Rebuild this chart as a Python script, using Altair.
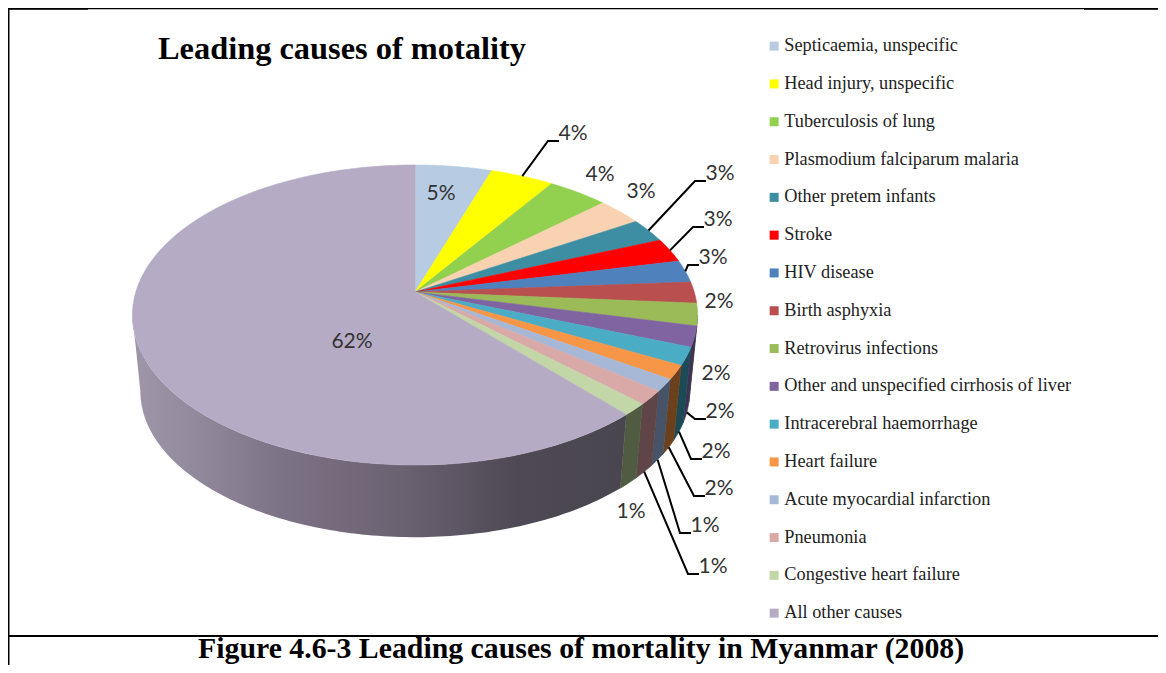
import math
import altair as alt

W, H = 1150, 657
ORIGIN = 8  # page margin: reference pixels minus this give chart pixels

causes = ["Septicaemia, unspecific", "Head injury, unspecific", "Tuberculosis of lung",
          "Plasmodium falciparum malaria", "Other pretem infants", "Stroke", "HIV disease",
          "Birth asphyxia", "Retrovirus infections", "Other and unspecified cirrhosis of liver",
          "Intracerebral haemorrhage", "Heart failure", "Acute myocardial infarction",
          "Pneumonia", "Congestive heart failure", "All other causes"]
shares = [5.1, 4.2, 4.0, 3.0, 2.6, 2.6, 2.4, 2.3, 2.4, 2.2, 1.9, 1.5, 1.3, 1.5, 1.3, 61.7]
labels = ["5%", "4%", "4%", "3%", "3%", "3%", "3%", "2%", "2%", "2%", "2%", "2%", "1%", "1%", "1%", "62%"]
top_colors = ["#b7cce3", "#ffff00", "#92d050", "#f9d2b2", "#3d8ea3", "#ff0000", "#4f81bd", "#b94f4e",
              "#9bbb59", "#8064a2", "#4bacc6", "#f79646", "#a7b8d7", "#d9a9a8", "#c3d6a7", "#b6abc5"]
side_colors = ["#5a6a7a", "#7a7a00", "#466a28", "#7a6855", "#1c4a57", "#7a0000", "#27405e", "#5c2726",
               "#4d5c2a", "#3e3352", "#1c4a57", "#6b401c", "#475366", "#5f4548", "#505c42", "#4a464f"]
label_xy = [(441, 194), (573, 134), (600, 175), (641, 192), (720, 174), (718, 220), (713, 258), (719, 302),
            (716, 374), (720, 412), (716, 452), (719, 489), (705, 526), (713, 567), (631, 512), (352, 342)]
# slices whose label is tied by a leader, and whether it starts at the lower rim
leaders = {1: False, 4: False, 5: False, 6: False, 9: True, 10: True, 11: True, 12: True, 13: True}

# Perspective pie: centre, radii, foreshortening, depth of the wall
CX, CY, RX, RY, PERSP = 415 - ORIGIN, 292 - ORIGIN, 279.2, 146.5, 0.1533
WALL_SCALE, WALL_DROP = 0.972, 77
VISIBLE = (98.8, 261.2)


def rim(angle, lower=False):
    a = math.radians(angle)
    w = 1 + PERSP * math.cos(a)
    x, y = RX * math.sin(a) / w, RY * math.cos(a) / w
    if lower:
        return [CX + x * WALL_SCALE, CY - y * WALL_SCALE + WALL_DROP]
    return [CX + x, CY - y]


def arc(a0, a1, lower=False):
    n = max(2, int(abs(a1 - a0)) + 2)
    return [rim(a0 + (a1 - a0) * i / (n - 1), lower) for i in range(n)]


def feature(kind, coords, **props):
    return {"type": "Feature", "properties": props, "geometry": {"type": kind, "coordinates": coords}}


edges = [0.0]
for s in shares:
    edges.append(edges[-1] + s * 3.6 * 100 / sum(shares))

top_features, side_features, gradient_features, leader_features = [], [], [], []
for i, cause in enumerate(causes):
    a0, a1 = edges[i], edges[i + 1]
    top_features.append(feature("Polygon", [[[CX, CY]] + arc(a0, a1) + [[CX, CY]]], cause=cause))
    b0, b1 = max(a0, VISIBLE[0]), min(a1, VISIBLE[1])
    if b1 > b0:
        ring = arc(b0, b1) + arc(b1, b0, lower=True)
        ring.append(ring[0])
        f = feature("Polygon", [ring], shade=side_colors[i])
        (gradient_features if cause == "All other causes" else side_features).append(f)
    if i in leaders:
        lx, ly = label_xy[i][0] - ORIGIN, label_xy[i][1] - ORIGIN
        start = rim((a0 + a1) / 2, leaders[i])
        leader_features.append(feature("LineString", [start, [lx - 25, ly + 7], [lx - 14, ly + 7]]))

label_rows = [{"text": t, "lon": x - ORIGIN, "lat": y - ORIGIN} for t, (x, y) in zip(labels, label_xy)]

proj = alt.Projection(type="identity", scale=1, translate=[0, 0])

walls = alt.Chart(alt.Data(values=side_features)).mark_geoshape(strokeWidth=0.6).encode(
    fill=alt.Fill("properties.shade:N", scale=None),
    stroke=alt.Stroke("properties.shade:N", scale=None),
).project(**proj.to_dict())

big_wall = alt.Chart(alt.Data(values=gradient_features)).mark_geoshape(
    fill=alt.Gradient(
        gradient="linear", x1=0, x2=1, y1=0, y2=0,
        stops=[alt.GradientStop(color="#9f96aa", offset=0),
               alt.GradientStop(color="#938a9e", offset=0.12),
               alt.GradientStop(color="#7d7386", offset=0.3),
               alt.GradientStop(color="#6a6171", offset=0.55),
               alt.GradientStop(color="#4e4954", offset=0.78),
               alt.GradientStop(color="#4a464f", offset=1)],
    ),
    strokeWidth=0,
).project(**proj.to_dict())

slices = alt.Chart(alt.Data(values=top_features)).mark_geoshape(strokeWidth=0.6).encode(
    fill=alt.Fill(
        "properties.cause:N",
        scale=alt.Scale(domain=causes, range=top_colors),
        sort=causes,
        legend=alt.Legend(
            title=None, orient="none", legendX=757, legendY=29, symbolType="square", symbolSize=81,
            symbolStrokeWidth=0, labelFont="Liberation Serif", labelFontSize=18.3, labelColor="#222222",
            labelLimit=400, rowPadding=18.8, labelOffset=1, padding=0, values=causes,
        ),
    ),
    stroke=alt.Stroke("properties.cause:N", scale=alt.Scale(domain=causes, range=top_colors), legend=None),
).project(**proj.to_dict())

leader_lines = alt.Chart(alt.Data(values=leader_features)).mark_geoshape(
    filled=False, stroke="black", strokeWidth=2
).project(**proj.to_dict())

pct_text = alt.Chart(alt.Data(values=label_rows)).mark_text(
    font="Lato", fontSize=21, color="#333333", align="center", baseline="middle"
).encode(longitude="lon:Q", latitude="lat:Q", text="text:N").project(**proj.to_dict())

title_text = alt.Chart(alt.Data(values=[{"t": "Leading causes of motality"}])).mark_text(
    font="Liberation Serif", fontWeight="bold", fontSize=32.4, color="black", align="left", baseline="alphabetic"
).encode(x=alt.value(158 - ORIGIN), y=alt.value(59 - ORIGIN), text="t:N")

caption_text = alt.Chart(alt.Data(values=[{"t": "Figure 4.6-3 Leading causes of mortality in Myanmar (2008)"}])).mark_text(
    font="Liberation Serif", fontWeight="bold", fontSize=29.8, color="black", align="left", baseline="alphabetic"
).encode(x=alt.value(198 - ORIGIN), y=alt.value(658 - ORIGIN), text="t:N")


def hline(x0, x1, y, width):
    return alt.Chart(alt.Data(values=[{"a": 0}])).mark_rule(color="black", strokeWidth=width).encode(
        x=alt.value(x0), x2=alt.value(x1), y=alt.value(y))


def vline(x, y0, y1, width):
    return alt.Chart(alt.Data(values=[{"a": 0}])).mark_rule(color="black", strokeWidth=width).encode(
        x=alt.value(x), y=alt.value(y0), y2=alt.value(y1))


frame = [
    hline(0, W, 0.5, 1.5),
    hline(0, 80, 0.5, 2.5),
    hline(1076, W, 0.5, 2.5),
    vline(0.5, 0, H, 2),
    hline(0, W, 628, 2.2),
]

chart = alt.layer(
    *frame, walls, big_wall, slices, leader_lines, pct_text, title_text, caption_text
).properties(
    width=W, height=H, padding=0, background="white",
    autosize=alt.AutoSizeParams(type="none"),
).configure_view(stroke=None)

chart.save("out.html", embed_options={"renderer": "svg", "actions": False})
